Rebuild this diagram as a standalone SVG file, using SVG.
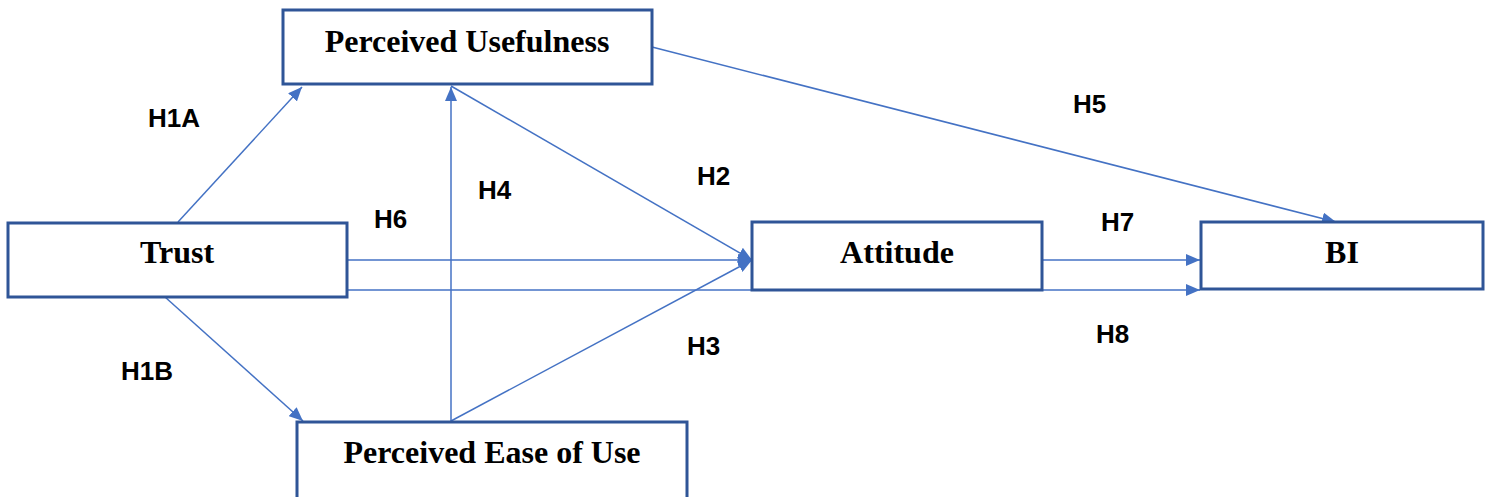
<svg xmlns="http://www.w3.org/2000/svg" width="1489" height="497" viewBox="0 0 1489 497">
  <defs>
    <marker id="arrow" viewBox="0 0 14 12" refX="14" refY="6" markerWidth="14" markerHeight="12" markerUnits="userSpaceOnUse" orient="auto">
      <path d="M0,0 L14,6 L0,12 Z" fill="#4472C4"/>
    </marker>
    <style>
      .box { fill: #ffffff; stroke: #2F5597; stroke-width: 3; }
      .name { font-family: "Liberation Serif", "Times New Roman", serif; font-weight: bold; font-size: 32px; fill: #000000; text-anchor: middle; }
      .edge { fill: none; stroke: #4472C4; stroke-width: 1.5; marker-end: url(#arrow); }
      .hyp { font-family: "Liberation Sans", Arial, sans-serif; font-weight: bold; font-size: 26px; fill: #000000; }
    </style>
  </defs>
  <rect width="1489" height="497" fill="#ffffff"/>

  <!-- connectors -->
  <g id="connectors">
    <line class="edge" x1="178" y1="222" x2="302" y2="87"/>
    <line class="edge" x1="165" y1="297" x2="303" y2="421"/>
    <line class="edge" x1="451" y1="421" x2="451" y2="87"/>
    <line class="edge" x1="451" y1="86" x2="752" y2="260"/>
    <line class="edge" x1="451" y1="421" x2="752" y2="260"/>
    <line class="edge" x1="347" y1="260" x2="752" y2="260"/>
    <line class="edge" x1="347" y1="290" x2="1200" y2="290"/>
    <line class="edge" x1="1042" y1="260" x2="1200" y2="260"/>
    <line class="edge" x1="652" y1="47" x2="1336" y2="222"/>
  </g>

  <!-- hypothesis labels -->
  <g id="labels">
    <text class="hyp" x="148" y="127">H1A</text>
    <text class="hyp" x="121" y="380">H1B</text>
    <text class="hyp" x="374" y="228">H6</text>
    <text class="hyp" x="478" y="199">H4</text>
    <text class="hyp" x="697" y="185">H2</text>
    <text class="hyp" x="687" y="355">H3</text>
    <text class="hyp" x="1073" y="113">H5</text>
    <text class="hyp" x="1101" y="231">H7</text>
    <text class="hyp" x="1096" y="343">H8</text>
  </g>

  <g id="perceived-usefulness">
    <rect class="box" x="283" y="10" width="369" height="74"/>
    <text class="name" x="467" y="52">Perceived Usefulness</text>
  </g>
  <g id="trust">
    <rect class="box" x="8" y="223" width="339" height="74"/>
    <text class="name" x="177" y="263">Trust</text>
  </g>
  <g id="perceived-ease-of-use">
    <rect class="box" x="297" y="422" width="390" height="90"/>
    <text class="name" x="492" y="463">Perceived Ease of Use</text>
  </g>
  <g id="attitude">
    <rect class="box" x="752" y="222" width="290" height="68"/>
    <text class="name" x="897" y="263">Attitude</text>
  </g>
  <g id="bi">
    <rect class="box" x="1201" y="222" width="282" height="67"/>
    <text class="name" x="1342" y="263">BI</text>
  </g>
</svg>
